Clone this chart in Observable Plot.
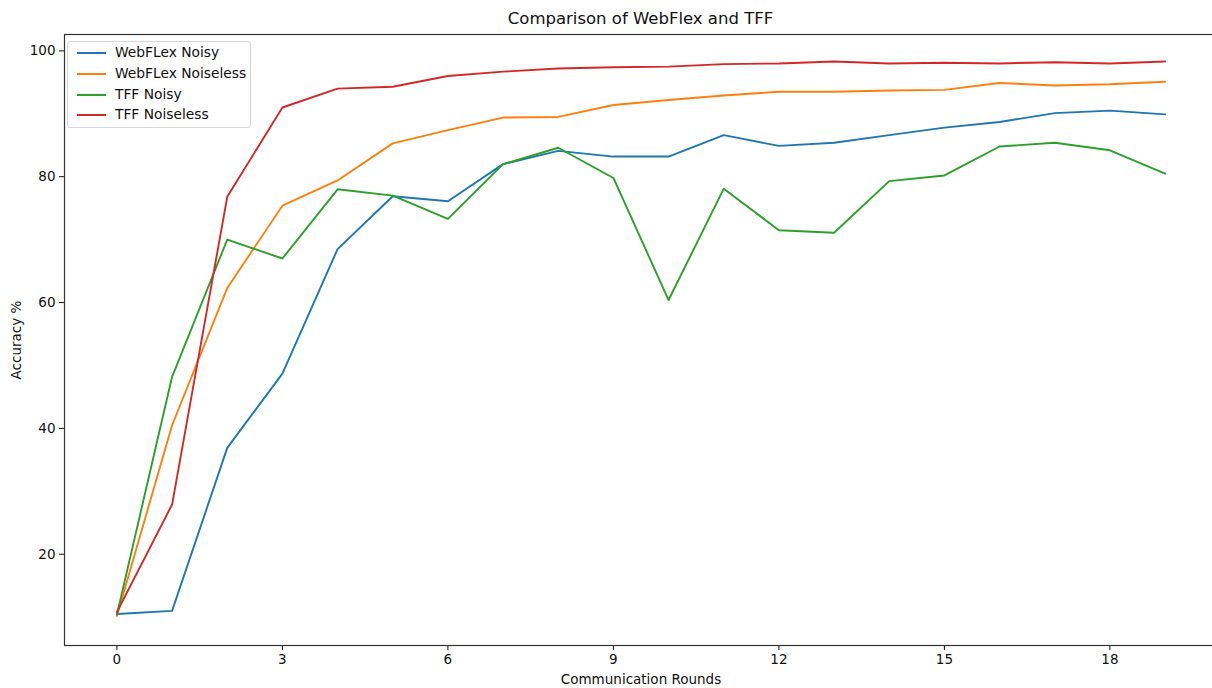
<!DOCTYPE html>
<html>
<head>
<meta charset="utf-8">
<script src="https://cdn.jsdelivr.net/npm/d3@7"></script>
<script src="https://cdn.jsdelivr.net/npm/@observablehq/plot@0.6"></script>
<style>
  html, body { margin: 0; padding: 0; background: #fff; overflow: hidden; }
  #wrap { position: relative; width: 1212px; height: 688px; overflow: hidden; font-family: "DejaVu Sans", sans-serif; }
  #title { position: absolute; left: 64px; top: 0; width: 1153px; height: 30px; line-height: 37px; text-align: center; font-size: 16.5px; color: #111; }
  #chart { position: absolute; left: 0; top: 30px; }
  #legend { position: absolute; left: 67px; top: 41px; width: 184px; height: 87px; border: 1px solid #d8d8d8; border-radius: 3px; background: rgba(255,255,255,0.8); box-sizing: border-box; }
  .row { position: absolute; left: 0; height: 20px; font-size: 13.8px; color: #111; }
  .row .sw { position: absolute; left: 9px; top: 10px; width: 29px; height: 2px; }
  .row .lb { position: absolute; left: 47px; top: 2px; white-space: nowrap; }
</style>
</head>
<body>
<div id="wrap">
  <div id="title"></div>
  <div id="chart"></div>
  <div id="legend"></div>
</div>
<script>
const titleText = "Comparison of WebFlex and TFF";
const xLabel = "Communication Rounds";
const yLabel = "Accuracy %";

const rounds = [0,1,2,3,4,5,6,7,8,9,10,11,12,13,14,15,16,17,18,19];
const seriesNames = ["WebFLex Noisy", "WebFLex Noiseless", "TFF Noisy", "TFF Noiseless"];
const seriesColors = ["#1f77b4", "#ff7f0e", "#2ca02c", "#d62728"];

const webflexNoisy     = [10.5, 11.0, 36.9, 48.7, 68.5, 76.9, 76.1, 82.0, 84.1, 83.2, 83.2, 86.6, 84.9, 85.4, 86.6, 87.8, 88.7, 90.1, 90.5, 89.9];
const webflexNoiseless = [10.2, 40.5, 62.3, 75.4, 79.4, 85.3, 87.4, 89.4, 89.5, 91.4, 92.2, 92.9, 93.5, 93.5, 93.7, 93.8, 94.9, 94.5, 94.7, 95.1];
const tffNoisy         = [10.4, 48.2, 70.0, 67.0, 78.0, 77.0, 73.3, 82.0, 84.6, 79.8, 60.4, 78.1, 71.5, 71.1, 79.3, 80.2, 84.8, 85.4, 84.2, 80.5];
const tffNoiseless     = [10.8, 27.9, 76.8, 91.0, 94.0, 94.3, 96.0, 96.7, 97.2, 97.4, 97.5, 97.9, 98.0, 98.3, 98.0, 98.1, 98.0, 98.2, 98.0, 98.3];

const xTicks = [0, 3, 6, 9, 12, 15, 18];
const yTicks = [20, 40, 60, 80, 100];

const allSeries = [webflexNoisy, webflexNoiseless, tffNoisy, tffNoiseless];
const data = [];
allSeries.forEach((vals, i) => {
  vals.forEach((v, j) => data.push({round: rounds[j], acc: v, series: seriesNames[i]}));
});

document.getElementById("title").textContent = titleText;

const plot = Plot.plot({
  width: 1219,
  height: 658,
  marginLeft: 64,
  marginRight: 2,
  marginTop: 4,
  marginBottom: 43,
  style: {maxWidth: "none", fontFamily: "DejaVu Sans, sans-serif", fontSize: "13.5px", color: "#111", background: "white", overflow: "visible"},
  x: {domain: [-0.95, 19.95], label: null},
  y: {domain: [5.5, 102.6], label: null},
  color: {domain: seriesNames, range: seriesColors},
  marks: [
    Plot.axisX({ticks: xTicks, tickSize: 5, tickPadding: 4, label: xLabel, labelAnchor: "center", labelOffset: 38, labelArrow: "none", fontSize: 13.5}),
    Plot.axisY({ticks: yTicks, tickSize: 5, tickPadding: 4, label: yLabel, labelAnchor: "center", labelOffset: 53, labelArrow: "none", fontSize: 13.5}),
    Plot.line(data, {x: "round", y: "acc", z: "series", stroke: "series", strokeWidth: 1.9}),
    Plot.frame({stroke: "#333", strokeWidth: 1.2})
  ]
});
document.getElementById("chart").appendChild(plot);

const legend = document.getElementById("legend");
seriesNames.forEach((name, i) => {
  const row = document.createElement("div");
  row.className = "row";
  row.style.top = (0 + i * 20.8) + "px";
  const sw = document.createElement("div");
  sw.className = "sw";
  sw.style.background = seriesColors[i];
  const lb = document.createElement("div");
  lb.className = "lb";
  lb.textContent = name;
  row.appendChild(sw);
  row.appendChild(lb);
  legend.appendChild(row);
});
</script>
</body>
</html>
